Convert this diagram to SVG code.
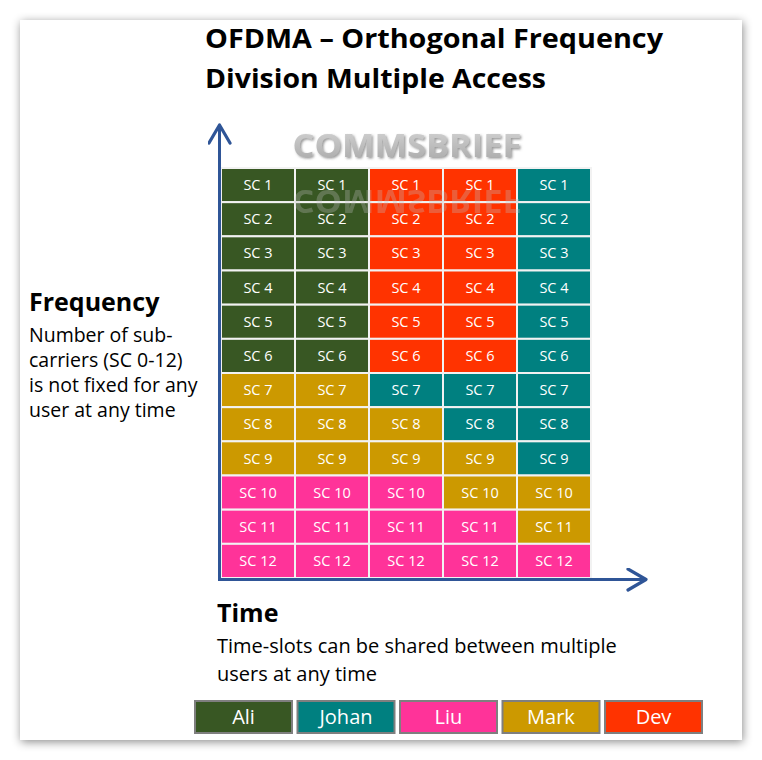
<svg xmlns="http://www.w3.org/2000/svg" width="762" height="760" viewBox="0 0 762 760">
<defs>
<filter id="pageShadow" x="-10%" y="-10%" width="120%" height="120%">
<feDropShadow dx="1" dy="2" stdDeviation="5" flood-color="#000" flood-opacity="0.45"/>
</filter>
<filter id="wmShadow" x="-10%" y="-30%" width="120%" height="160%">
<feDropShadow dx="1.5" dy="1.5" stdDeviation="1" flood-color="#555" flood-opacity="0.6"/>
</filter>
<linearGradient id="wmGrad" x1="0" y1="0" x2="0" y2="1">
<stop offset="0" stop-color="#d9d9d9"/>
<stop offset="0.5" stop-color="#bfbfbf"/>
<stop offset="1" stop-color="#a6a6a6"/>
</linearGradient>
<marker id="arr" viewBox="0 0 24 24" refX="21" refY="12" markerWidth="24" markerHeight="24" markerUnits="userSpaceOnUse" orient="auto">
<path d="M3,1.5 L21,12 L3,22.5" fill="none" stroke="#2f5597" stroke-width="3.2" stroke-linecap="round" stroke-linejoin="round"/>
</marker>
</defs>
<style>
.t{font-family:"Open Sans","Noto Sans","Liberation Sans",sans-serif;}
.title{font-size:27px;font-weight:700;fill:#000;}
.head{font-size:25px;font-weight:700;fill:#000;}
.body{font-size:19.5px;fill:#000;}
.body2{font-size:20px;fill:#000;}
.sc{font-size:14.5px;fill:#fff;text-anchor:middle;}
.lg{font-size:20px;fill:#fff;text-anchor:middle;}
.cell{stroke:#f2f2f2;stroke-width:2;}
.ali{fill:#385723;}
.joh{fill:#008080;}
.liu{fill:#ff3399;}
.mar{fill:#cc9900;}
.dev{fill:#ff3300;}
.lbox{stroke:#7f7f7f;stroke-width:2;}
.axis{stroke:#2f5597;stroke-width:3;fill:none;marker-end:url(#arr);}
</style>
<rect width="762" height="760" fill="#fff"/>
<rect x="20" y="20" width="722" height="720" fill="#fff" filter="url(#pageShadow)"/>

<g id="title" class="t title">
<text x="205" y="48" textLength="458" lengthAdjust="spacingAndGlyphs">OFDMA – Orthogonal Frequency</text>
<text x="205" y="88" textLength="341" lengthAdjust="spacingAndGlyphs">Division Multiple Access</text>
</g>

<g id="watermark" class="t">
<text x="407" y="157" text-anchor="middle" font-size="32" font-weight="700" fill="url(#wmGrad)" filter="url(#wmShadow)" textLength="229" lengthAdjust="spacingAndGlyphs">COMMSBRIEF</text>
</g>

<g id="grid">
<g id="col1">
<rect class="cell ali" x="221" y="168" width="74" height="34.17"/>
<rect class="cell ali" x="221" y="202.17" width="74" height="34.17"/>
<rect class="cell ali" x="221" y="236.33" width="74" height="34.17"/>
<rect class="cell ali" x="221" y="270.5" width="74" height="34.17"/>
<rect class="cell ali" x="221" y="304.67" width="74" height="34.17"/>
<rect class="cell ali" x="221" y="338.83" width="74" height="34.17"/>
<rect class="cell mar" x="221" y="373" width="74" height="34.17"/>
<rect class="cell mar" x="221" y="407.17" width="74" height="34.17"/>
<rect class="cell mar" x="221" y="441.33" width="74" height="34.17"/>
<rect class="cell liu" x="221" y="475.5" width="74" height="34.17"/>
<rect class="cell liu" x="221" y="509.67" width="74" height="34.17"/>
<rect class="cell liu" x="221" y="543.83" width="74" height="34.17"/>
</g>
<g id="col2">
<rect class="cell ali" x="295" y="168" width="74" height="34.17"/>
<rect class="cell ali" x="295" y="202.17" width="74" height="34.17"/>
<rect class="cell ali" x="295" y="236.33" width="74" height="34.17"/>
<rect class="cell ali" x="295" y="270.5" width="74" height="34.17"/>
<rect class="cell ali" x="295" y="304.67" width="74" height="34.17"/>
<rect class="cell ali" x="295" y="338.83" width="74" height="34.17"/>
<rect class="cell mar" x="295" y="373" width="74" height="34.17"/>
<rect class="cell mar" x="295" y="407.17" width="74" height="34.17"/>
<rect class="cell mar" x="295" y="441.33" width="74" height="34.17"/>
<rect class="cell liu" x="295" y="475.5" width="74" height="34.17"/>
<rect class="cell liu" x="295" y="509.67" width="74" height="34.17"/>
<rect class="cell liu" x="295" y="543.83" width="74" height="34.17"/>
</g>
<g id="col3">
<rect class="cell dev" x="369" y="168" width="74" height="34.17"/>
<rect class="cell dev" x="369" y="202.17" width="74" height="34.17"/>
<rect class="cell dev" x="369" y="236.33" width="74" height="34.17"/>
<rect class="cell dev" x="369" y="270.5" width="74" height="34.17"/>
<rect class="cell dev" x="369" y="304.67" width="74" height="34.17"/>
<rect class="cell dev" x="369" y="338.83" width="74" height="34.17"/>
<rect class="cell joh" x="369" y="373" width="74" height="34.17"/>
<rect class="cell mar" x="369" y="407.17" width="74" height="34.17"/>
<rect class="cell mar" x="369" y="441.33" width="74" height="34.17"/>
<rect class="cell liu" x="369" y="475.5" width="74" height="34.17"/>
<rect class="cell liu" x="369" y="509.67" width="74" height="34.17"/>
<rect class="cell liu" x="369" y="543.83" width="74" height="34.17"/>
</g>
<g id="col4">
<rect class="cell dev" x="443" y="168" width="74" height="34.17"/>
<rect class="cell dev" x="443" y="202.17" width="74" height="34.17"/>
<rect class="cell dev" x="443" y="236.33" width="74" height="34.17"/>
<rect class="cell dev" x="443" y="270.5" width="74" height="34.17"/>
<rect class="cell dev" x="443" y="304.67" width="74" height="34.17"/>
<rect class="cell dev" x="443" y="338.83" width="74" height="34.17"/>
<rect class="cell joh" x="443" y="373" width="74" height="34.17"/>
<rect class="cell joh" x="443" y="407.17" width="74" height="34.17"/>
<rect class="cell mar" x="443" y="441.33" width="74" height="34.17"/>
<rect class="cell mar" x="443" y="475.5" width="74" height="34.17"/>
<rect class="cell liu" x="443" y="509.67" width="74" height="34.17"/>
<rect class="cell liu" x="443" y="543.83" width="74" height="34.17"/>
</g>
<g id="col5">
<rect class="cell joh" x="517" y="168" width="74" height="34.17"/>
<rect class="cell joh" x="517" y="202.17" width="74" height="34.17"/>
<rect class="cell joh" x="517" y="236.33" width="74" height="34.17"/>
<rect class="cell joh" x="517" y="270.5" width="74" height="34.17"/>
<rect class="cell joh" x="517" y="304.67" width="74" height="34.17"/>
<rect class="cell joh" x="517" y="338.83" width="74" height="34.17"/>
<rect class="cell joh" x="517" y="373" width="74" height="34.17"/>
<rect class="cell joh" x="517" y="407.17" width="74" height="34.17"/>
<rect class="cell joh" x="517" y="441.33" width="74" height="34.17"/>
<rect class="cell mar" x="517" y="475.5" width="74" height="34.17"/>
<rect class="cell mar" x="517" y="509.67" width="74" height="34.17"/>
<rect class="cell liu" x="517" y="543.83" width="74" height="34.17"/>
</g>
<g id="cell-labels" class="t sc">
<g transform="translate(258,0)">
<text y="190">SC 1</text><text y="224">SC 2</text><text y="258">SC 3</text><text y="293">SC 4</text><text y="327">SC 5</text><text y="361">SC 6</text><text y="395">SC 7</text><text y="429">SC 8</text><text y="464">SC 9</text><text y="498">SC 10</text><text y="532">SC 11</text><text y="566">SC 12</text>
</g>
<g transform="translate(332,0)">
<text y="190">SC 1</text><text y="224">SC 2</text><text y="258">SC 3</text><text y="293">SC 4</text><text y="327">SC 5</text><text y="361">SC 6</text><text y="395">SC 7</text><text y="429">SC 8</text><text y="464">SC 9</text><text y="498">SC 10</text><text y="532">SC 11</text><text y="566">SC 12</text>
</g>
<g transform="translate(406,0)">
<text y="190">SC 1</text><text y="224">SC 2</text><text y="258">SC 3</text><text y="293">SC 4</text><text y="327">SC 5</text><text y="361">SC 6</text><text y="395">SC 7</text><text y="429">SC 8</text><text y="464">SC 9</text><text y="498">SC 10</text><text y="532">SC 11</text><text y="566">SC 12</text>
</g>
<g transform="translate(480,0)">
<text y="190">SC 1</text><text y="224">SC 2</text><text y="258">SC 3</text><text y="293">SC 4</text><text y="327">SC 5</text><text y="361">SC 6</text><text y="395">SC 7</text><text y="429">SC 8</text><text y="464">SC 9</text><text y="498">SC 10</text><text y="532">SC 11</text><text y="566">SC 12</text>
</g>
<g transform="translate(554,0)">
<text y="190">SC 1</text><text y="224">SC 2</text><text y="258">SC 3</text><text y="293">SC 4</text><text y="327">SC 5</text><text y="361">SC 6</text><text y="395">SC 7</text><text y="429">SC 8</text><text y="464">SC 9</text><text y="498">SC 10</text><text y="532">SC 11</text><text y="566">SC 12</text>
</g>
</g>
</g>

<g id="watermark-reflection" class="t" opacity="0.3">
<text x="407" y="157" text-anchor="middle" font-size="32" font-weight="700" fill="#bfbfbf" transform="matrix(1,0,0,-1,0,347)" textLength="229" lengthAdjust="spacingAndGlyphs">COMMSBRIEF</text>
</g>

<g id="connectors">
<path class="axis" d="M219.5,579.5 L219.5,125"/>
<path class="axis" d="M218,579.5 L646,579.5"/>
</g>

<g id="frequency-label" class="t">
<text x="29" y="311" class="head">Frequency</text>
<text class="body" x="29" y="342">Number of sub-</text>
<text class="body" x="29" y="367">carriers (SC 0-12)</text>
<text class="body" x="29" y="392">is not fixed for any</text>
<text class="body" x="29" y="417">user at any time</text>
</g>

<g id="time-label" class="t">
<text x="217" y="622" class="head">Time</text>
<text class="body2" x="217" y="653">Time-slots can be shared between multiple</text>
<text class="body2" x="217" y="681">users at any time</text>
</g>

<g id="legend" class="t">
<g id="legend-ali"><rect class="lbox ali" x="195" y="701" width="97" height="32"/><text class="lg" x="243.5" y="724">Ali</text></g>
<g id="legend-johan"><rect class="lbox joh" x="297.5" y="701" width="97" height="32"/><text class="lg" x="346" y="724">Johan</text></g>
<g id="legend-liu"><rect class="lbox liu" x="400" y="701" width="97" height="32"/><text class="lg" x="448.5" y="724">Liu</text></g>
<g id="legend-mark"><rect class="lbox mar" x="502.5" y="701" width="97" height="32"/><text class="lg" x="551" y="724">Mark</text></g>
<g id="legend-dev"><rect class="lbox dev" x="605" y="701" width="97" height="32"/><text class="lg" x="653.5" y="724">Dev</text></g>
</g>
</svg>
